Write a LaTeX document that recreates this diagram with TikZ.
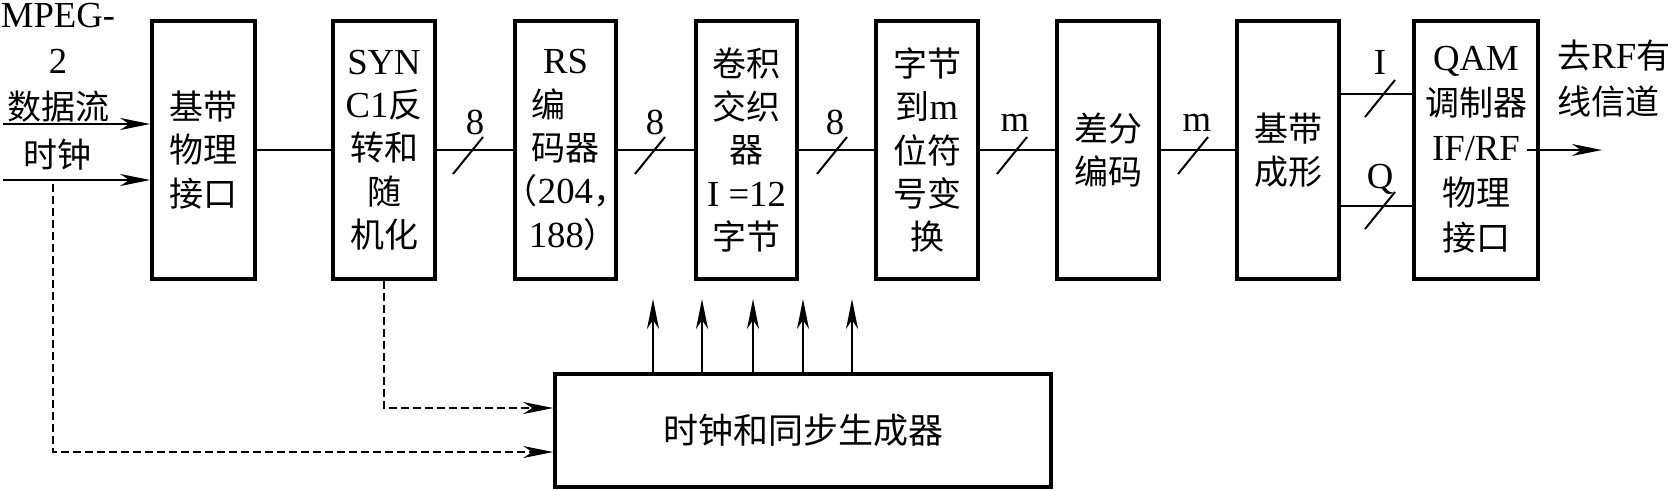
\documentclass[tikz,border=0pt]{standalone}
\usepackage{fontspec}
\setmainfont{Liberation Serif}[Scale=1.08]
\newfontfamily\cjk{Noto Sans CJK SC}
\newcommand\zhs[1]{{\cjk #1}}
\usetikzlibrary{arrows.meta}
\newcommand\busmark[2]{\draw[conn] (#1-15,#2+23) -- (#1+15,#2-14);}
\begin{document}
\begin{tikzpicture}[x=0.5pt,y=-0.5pt,
  blk/.style={draw, line width=1.8pt, minimum width=51pt, minimum height=129pt, inner sep=0pt, align=center, font=\fontsize{17}{21.7}\selectfont},
  txt/.style={inner sep=0pt, align=center, font=\fontsize{17}{23}\selectfont},
  conn/.style={line width=1pt},
  arr/.style={line width=1pt, -{Stealth[length=15pt,width=6pt,inset=4.5pt]}},
  uparr/.style={arr, line width=0.8pt},
  dsh/.style={arr, dash pattern=on 4pt off 2pt}
]
\useasboundingbox (0,0) rectangle (1674,489);

% main blocks
\node[blk, minimum width=51.5pt] (b1) at (203.5,150) {\zhs{基带}\\\zhs{物理}\\\zhs{接口}};
\node[blk] (b2) at (384,150) {SYN\\C1\zhs{反}\\\zhs{转和}\\\zhs{随}\\\zhs{机化}};
\node[blk, minimum width=50.5pt] (b3) at (565.5,150) {RS\\\zhs{编\hphantom{码}}\\\zhs{码器}\\\makebox[0.5em][r]{\zhs{（}}204\makebox[0.5em][l]{\zhs{，}}\\188\makebox[0.5em][l]{\zhs{）}}};
\node[blk, minimum width=50.5pt] (b4) at (746.5,150) {\zhs{卷积}\\\zhs{交织}\\\zhs{器}\\I =12\\\zhs{字节}};
\node[blk] (b5) at (927,150) {\zhs{字节}\\\zhs{到}m\\\zhs{位符}\\\zhs{号变}\\\zhs{换}};
\node[blk] (b6) at (1108,150) {\zhs{差分}\\\zhs{编码}};
\node[blk] (b7) at (1288,150) {\zhs{基带}\\\zhs{成形}};
\node[blk, minimum width=62pt, font=\fontsize{17}{22.5}\selectfont] (b8) at (1476,150) {QAM\\\zhs{调制器}\\IF/RF\\\zhs{物理}\\\zhs{接口}};

% clock and sync generator
\node[draw, line width=1.8pt, minimum width=248pt, minimum height=56.5pt, inner sep=0pt, font=\fontsize{17.5}{21}\selectfont] (clk) at (803,430.5) {\zhs{时钟和同步生成器}};

% connectors between blocks
\draw[conn] (b1) -- (b2);
\draw[conn] (b2) -- (b3);
\draw[conn] (b3) -- (b4);
\draw[conn] (b4) -- (b5);
\draw[conn] (b5) -- (b6);
\draw[conn] (b6) -- (b7);
\draw[conn] ([yshift=28pt]b7.east) -- ([yshift=28pt]b8.west);
\draw[conn] ([yshift=-28pt]b7.east) -- ([yshift=-28pt]b8.west);

% bus marks
\busmark{468}{151}
\busmark{650}{151}
\busmark{832}{151}
\busmark{1012}{151}
\busmark{1193}{151}
\busmark{1380}{94}
\busmark{1380}{206}

% bus labels
\node[txt] (l1) at (475,122) {8};
\node[txt] (l2) at (655,122) {8};
\node[txt] (l3) at (835,122) {8};
\node[txt] (l4) at (1015,123) {m};
\node[txt] (l5) at (1197,123) {m};
\node[txt] (lI) at (1380,62) {I};
\node[txt] (lQ) at (1380,179) {Q};

% inputs
\coordinate (din) at (3,124);
\coordinate (cin) at (3,180);
\draw[arr] (din) -- (din -| b1.west);
\draw[arr] (cin) -- (cin -| b1.west);
\node[txt, anchor=north] (lab1) at (58,3) {MPEG-\\2\\\zhs{数据流}};
\node[txt] (lab2) at (58,155) {\zhs{时钟}};

% output
\coordinate (out) at (1602,150);
\draw[arr] ([xshift=-6.5pt]b8.east) -- (out);
\node[txt, align=left, anchor=west] (lab3) at (1557,79) {\zhs{去}RF\zhs{有}\\\zhs{线信道}};

% dashed feeds to the generator
\coordinate (dv) at (53,184);
\coordinate (d2) at (53,452);
\coordinate (d1) at (384,408);
\draw[dsh] (dv) -- (d2) -- (d2 -| clk.west);
\draw[dsh] (b2.south) -- (d1) -- (d1 -| clk.west);

% clock outputs
\foreach \x [count=\i] in {653,702,753,803,852} {
  \coordinate (u\i) at (\x,299);
  \draw[uparr] (clk.north -| u\i) -- (u\i);
}
\end{tikzpicture}
\end{document}
